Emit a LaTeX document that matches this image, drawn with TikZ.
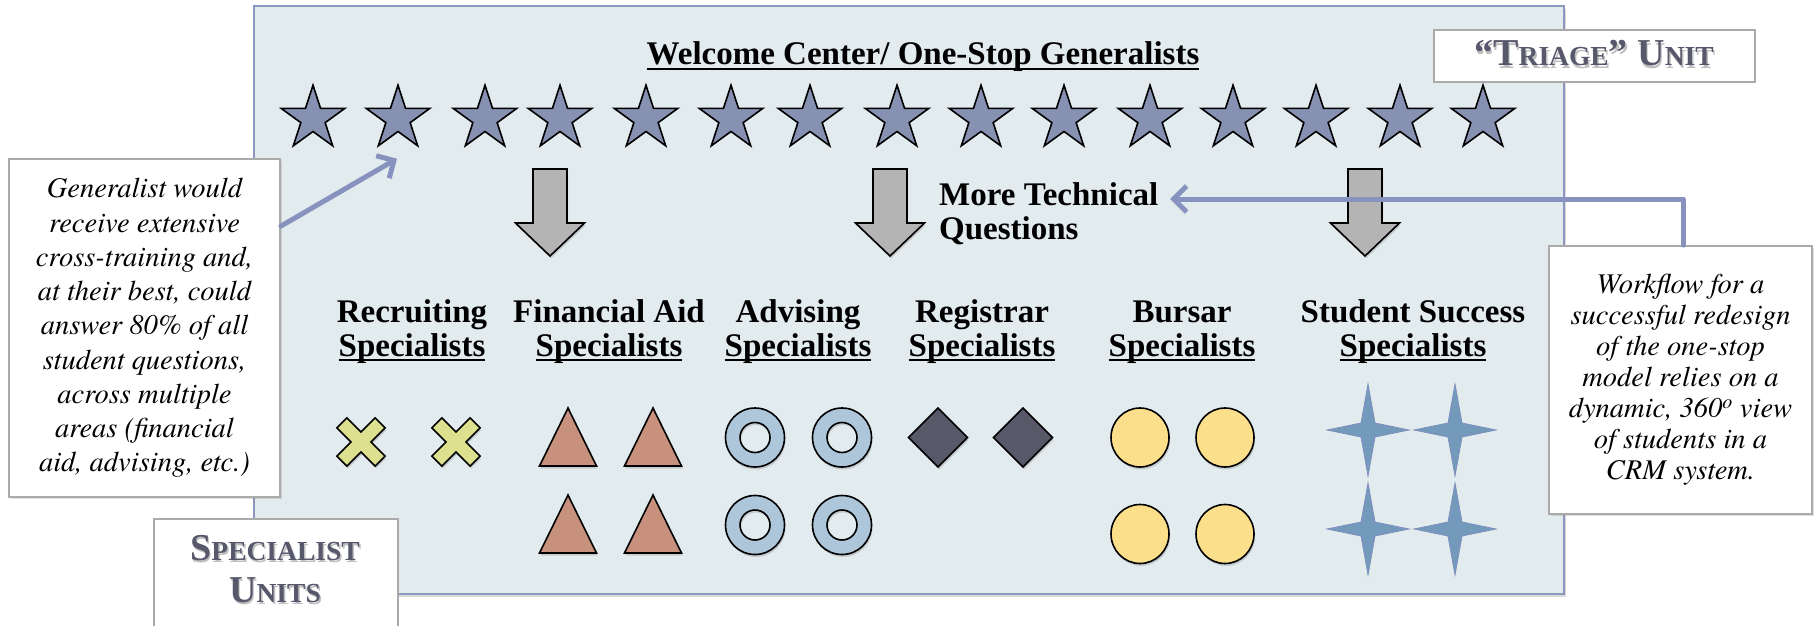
\documentclass[tikz,border=0pt]{standalone}
\usepackage{fontspec}
\setmainfont{Liberation Serif}
\IfFontExistsTF{texgyretermes-italic.otf}
  {\newfontfamily\itf{texgyretermes-italic.otf}}
  {\newfontfamily\itf{lmroman10-italic.otf}}
\usetikzlibrary{arrows.meta,shadows,calc,shapes.geometric}

\definecolor{panelfill}{RGB}{226,235,238}
\definecolor{panelline}{RGB}{140,150,190}
\definecolor{starfill}{RGB}{135,145,178}
\definecolor{arrowgray}{RGB}{180,180,180}
\definecolor{crossfill}{RGB}{221,224,143}
\definecolor{trifill}{RGB}{200,145,126}
\definecolor{donutfill}{RGB}{174,198,218}
\definecolor{diafill}{RGB}{88,88,104}
\definecolor{yelfill}{RGB}{252,223,138}
\definecolor{fourfill}{RGB}{115,153,187}
\definecolor{fouredge}{RGB}{128,144,190}
\definecolor{connector}{RGB}{135,147,190}
\definecolor{boxline}{RGB}{170,170,170}
\definecolor{unittext}{RGB}{88,88,108}

\newcommand\myul[1]{\setbox0\hbox{#1}\leavevmode\rlap{\rule[-5pt]{\wd0}{2.2pt}}\box0}
\newcommand\lab[2]{\begin{tabular}[t]{@{}c@{}}#1\\\myul{#2}\end{tabular}}
\newcommand\bigsz[1]{{\fontsize{38}{38}\selectfont #1}}
\newcommand\smsz[1]{{\fontsize{27.5}{27.5}\selectfont #1}}
\newcommand\shtext[1]{\rlap{\raisebox{-2pt}{\kern1.5pt\color{black!25}#1}}#1}

\begin{document}
\begin{tikzpicture}[x=1pt,y=-1pt,
  panel/.style={draw=panelline, line width=2.5pt, fill=panelfill,
    drop shadow={shadow xshift=2pt,shadow yshift=-3pt,opacity=0.3}},
  bigstar/.style={star, star points=5, star point ratio=2.618, minimum size=67pt,
    inner sep=0pt, draw=black, line width=1.6pt, fill=starfill},
  shp/.style={draw=black, line width=1.6pt,
    drop shadow={shadow xshift=1pt,shadow yshift=-2.5pt,opacity=0.3,even odd rule}},
  callout/.style={draw=boxline, line width=1.8pt, fill=white, inner sep=0pt,
    drop shadow={shadow xshift=1.5pt,shadow yshift=-2pt,opacity=0.25}},
  unitbox/.style={draw=boxline, line width=1.8pt, fill=white, inner sep=0pt},
  unittxt/.style={font=\bfseries, text=unittext, inner sep=0pt},
  lbl/.style={font=\bfseries\fontsize{33}{34}\selectfont, inner sep=0pt, anchor=base},
  conn/.style={draw=connector, line width=5pt, line cap=round, line join=round,
    -{Straight Barb[length=13pt,width=26pt]}}
]
\useasboundingbox (0,0) rectangle (1814,626);

% main panel
\draw[panel] (254,6) rectangle (1564,594);

% title
\node[lbl] (title) at (923,65) {\myul{Welcome Center/ One-Stop Generalists}};

% generalist stars
\foreach \i/\x in {1/313,2/398,3/485,4/560,5/646,6/731,7/810,8/897,9/981,10/1064,11/1150,12/1233,13/1316,14/1400,15/1483}
  \node[bigstar] (s\i) at (\x,118.7) {};

% gray down arrows
\foreach \cx in {550,890,1365}
  \draw[shp, fill=arrowgray, shift={(\cx,0)}]
    (-17,169) -- (17,169) -- (17,223) -- (34.5,223) -- (0,256) -- (-34.5,223) -- (-17,223) -- cycle;

% more technical questions
\node[lbl, anchor=base west] (mt) at (939,205)
  {\begin{tabular}[t]{@{}l@{}}More Technical\\Questions\end{tabular}};

% specialist labels
\node[lbl] (l1) at (412,322) {\lab{Recruiting}{Specialists}};
\node[lbl] (l2) at (609,322) {\lab{Financial Aid}{Specialists}};
\node[lbl] (l3) at (798,322) {\lab{Advising}{Specialists}};
\node[lbl] (l4) at (982,322) {\lab{Registrar}{Specialists}};
\node[lbl] (l5) at (1182,322) {\lab{Bursar}{Specialists}};
\node[lbl] (l6) at (1413,322) {\lab{Student Success}{Specialists}};

% crosses
\foreach \cx in {361,456}
  \draw[shp, fill=crossfill, shift={(\cx,442)}, rotate=45]
    (-7,-27) -- (7,-27) -- (7,-7) -- (27,-7) -- (27,7) -- (7,7) -- (7,27) -- (-7,27)
    -- (-7,7) -- (-27,7) -- (-27,-7) -- (-7,-7) -- cycle;

% triangles
\foreach \cx/\ty in {568/408,653/408,568/495,653/495}
  \draw[shp, fill=trifill] (\cx,\ty) -- (\cx+28.5,\ty+58) -- (\cx-28.5,\ty+58) -- cycle;

% donuts
\foreach \cx/\cy in {755/437.5,842/437.5,755/525,842/525}
  \draw[shp, fill=donutfill, even odd rule] (\cx,\cy) circle[radius=29.5] (\cx,\cy) circle[radius=15];

% diamonds
\foreach \cx in {938,1023}
  \draw[shp, fill=diafill] (\cx,408) -- (\cx+29.5,437.5) -- (\cx,467) -- (\cx-29.5,437.5) -- cycle;

% yellow circles
\foreach \cx/\cy in {1140/437.5,1225/437.5,1140/534,1225/534}
  \draw[shp, fill=yelfill] (\cx,\cy) ellipse[x radius=29, y radius=29.5];

% four-point stars
\foreach \cx/\cy in {1368/430,1455/430,1368/529,1455/529}
  \draw[draw=fouredge, line width=0.8pt, fill=fourfill, shift={(\cx,\cy)}]
    (0,-46) -- (7,-7) -- (41,0) -- (7,7) -- (0,46) -- (-7,7) -- (-41,0) -- (-7,-7) -- cycle;

% triage unit box
\node[unitbox, minimum width=321pt, minimum height=52pt, anchor=north west] (triage) at (1433,29) {};
\node[unittxt, anchor=base] (triagetxt) at (1594,66)
  {\shtext{\bigsz{“T}\smsz{RIAGE}\bigsz{” U}\smsz{NIT}}};

% specialist units box
\node[unitbox, minimum width=244pt, minimum height=140pt, anchor=north west] (spec) at (153,518) {};
\node[unittxt, anchor=base] (spectxt) at (275,560)
  {\begin{tabular}[t]{@{}c@{}}\shtext{\bigsz{S}\smsz{PECIALIST}}\\[14pt]\shtext{\bigsz{U}\smsz{NITS}}\end{tabular}};

% left callout
\node[callout, minimum width=271pt, minimum height=338pt, align=center,
  font=\itf\fontsize{28.5}{34.25}\selectfont] (gen) at (144.5,328)
  {Generalist would\\receive extensive\\cross-training and,\\at their best, could\\answer 80\% of all\\student questions,\\across multiple\\areas (financial\\aid, advising, etc.)};

% right callout
\node[callout, minimum width=263pt, minimum height=268pt, align=center,
  font=\itf\fontsize{28.5}{31}\selectfont] (wf) at (1680.5,380)
  {Workflow for a\\successful redesign\\of the one-stop\\model relies on a\\dynamic, 360\textsuperscript{o} view\\of students in a\\CRM system.};

% connectors
\coordinate (genTail) at ($(gen.north east)+(0,68)$);
\coordinate (genTip) at ($(s2.center)+(-1,40)$);
\draw[conn] (genTail) -- (genTip);
\coordinate (mtTip) at (1170,199);
\draw[conn] ($(wf.north)+(3,0)$) |- (mtTip);
\end{tikzpicture}
\end{document}
